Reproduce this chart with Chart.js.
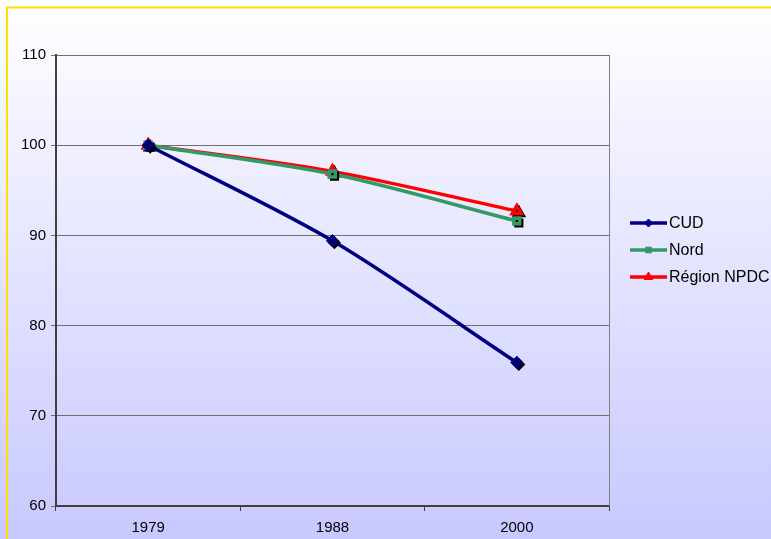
<!DOCTYPE html>
<html>
<head>
<meta charset="utf-8">
<script src="https://cdn.jsdelivr.net/npm/chart.js@4/dist/chart.umd.min.js"></script>
<style>
  html, body { margin: 0; padding: 0; background: #fff; }
  canvas { display: block; }
</style>
</head>
<body>
<canvas id="chart" width="771" height="539"></canvas>
<script>
// data
const years = ['1979', '1988', '2000'];
const cud = [100, 89.4, 75.9];
const nord = [100, 96.8, 91.6];
const region = [100, 97.1, 92.7];
const yTicks = [60, 70, 80, 90, 100, 110];

const font = 'Liberation Sans, Arial, sans-serif';

// background gradient + yellow frame
const backdrop = {
  id: 'backdrop',
  beforeDraw(chart) {
    const ctx = chart.ctx;
    const g = ctx.createLinearGradient(0, 0, 0, chart.height);
    g.addColorStop(0, '#ffffff');
    g.addColorStop(1, '#c8c8ff');
    ctx.save();
    ctx.fillStyle = g;
    ctx.fillRect(0, 0, chart.width, chart.height);
    ctx.strokeStyle = '#ffe000';
    ctx.lineWidth = 2;
    ctx.beginPath();
    ctx.moveTo(7, chart.height);
    ctx.lineTo(7, 7.5);
    ctx.lineTo(chart.width, 7.5);
    ctx.stroke();
    ctx.restore();
  },
  beforeDatasetsDraw(chart) {
    // right edge of the plot box
    const a = chart.chartArea;
    const ctx = chart.ctx;
    ctx.save();
    ctx.strokeStyle = '#808080';
    ctx.lineWidth = 1;
    ctx.beginPath();
    ctx.moveTo(a.right + 0.5, a.top);
    ctx.lineTo(a.right + 0.5, a.bottom);
    ctx.stroke();
    ctx.restore();
  }
};

// black drop shadow on the markers
const markerShadow = {
  id: 'markerShadow',
  afterDatasetDraw(chart, args) {
    const ctx = chart.ctx;
    ctx.save();
    ctx.shadowColor = '#000';
    ctx.shadowOffsetX = 2;
    ctx.shadowOffsetY = 2;
    args.meta.data.forEach(p => p.draw(ctx, chart.chartArea));
    ctx.restore();
  }
};

// legend drawn like the original: line with marker in the middle
const sideLegend = {
  id: 'sideLegend',
  afterDraw(chart) {
    const ctx = chart.ctx;
    const x0 = 630, x1 = 667, y0 = 223, step = 27;
    chart.data.datasets.forEach((ds, i) => {
      const y = y0 + i * step;
      ctx.save();
      ctx.strokeStyle = ds.borderColor;
      ctx.lineWidth = 3.5;
      ctx.beginPath();
      ctx.moveTo(x0, y);
      ctx.lineTo(x1, y);
      ctx.stroke();
      ctx.fillStyle = ds.pointBackgroundColor;
      ctx.strokeStyle = ds.pointBorderColor;
      ctx.lineWidth = 1;
      Chart.helpers.drawPoint(ctx, {
        pointStyle: ds.pointStyle,
        radius: ds.pointRadius,
        rotation: 0,
        borderWidth: 1
      }, (x0 + x1) / 2, y);
      ctx.fillStyle = '#000';
      ctx.font = '16px ' + font;
      ctx.textBaseline = 'middle';
      ctx.fillText(ds.label, x1 + 2, y + 1);
      ctx.restore();
    });
  }
};

function series(label, data, color, style, r) {
  return {
    label: label,
    data: data,
    borderColor: color,
    backgroundColor: color,
    pointBackgroundColor: color,
    pointBorderColor: color,
    borderWidth: 3.5,
    pointStyle: style,
    pointRadius: r,
    pointHoverRadius: r,
    tension: 0.3,
    fill: false
  };
}

new Chart(document.getElementById('chart'), {
  type: 'line',
  data: {
    labels: years,
    datasets: [
      series('CUD', cud, '#000080', 'rectRot', 4),
      series('Nord', nord, '#339966', 'rect', 4),
      series('Région NPDC', region, '#ff0000', 'triangle', 5)
    ]
  },
  options: {
    responsive: false,
    animation: false,
    layout: { padding: { left: 6, top: 55, right: 162, bottom: 0 } },
    plugins: {
      legend: { display: false },
      tooltip: { enabled: false }
    },
    scales: {
      x: {
        offset: true,
        grid: {
          offset: true,
          drawOnChartArea: false,
          drawTicks: true,
          tickLength: 5,
          color: '#404040'
        },
        border: { color: '#404040', width: 2 },
        ticks: { color: '#000', font: { family: font, size: 15 }, padding: 8 },
        afterFit(axis) { axis.height = 33; }
      },
      y: {
        min: 60,
        max: 110,
        afterBuildTicks(axis) { axis.ticks = yTicks.map(v => ({ value: v })); },
        grid: { color: '#707070', tickLength: 5, lineWidth: 1 },
        border: { color: '#404040', width: 2 },
        ticks: { color: '#000', font: { family: font, size: 15 }, padding: 5 },
        afterFit(axis) { axis.width = 50; }
      }
    }
  },
  plugins: [backdrop, markerShadow, sideLegend]
});
</script>
</body>
</html>
